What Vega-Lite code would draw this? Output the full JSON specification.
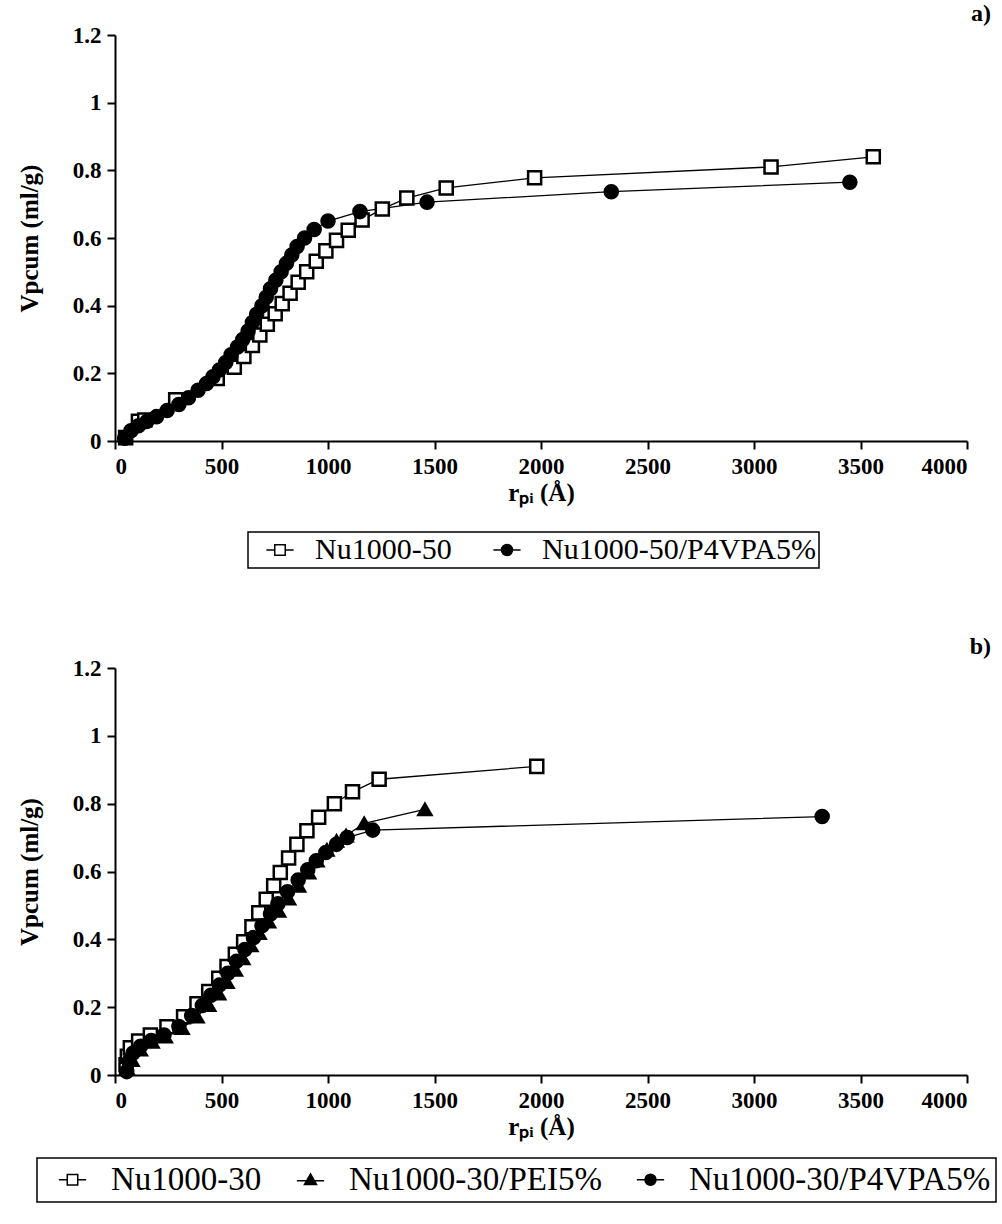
{
  "$schema": "https://vega.github.io/schema/vega-lite/v6.json",
  "padding": {"left": 17, "top": 2, "right": 0, "bottom": 0},
  "background": "white",
  "datasets": {
    "a": [
      {"series": "Nu1000-50", "r": 50, "v": 0.01},
      {"series": "Nu1000-50", "r": 110, "v": 0.058},
      {"series": "Nu1000-50", "r": 140, "v": 0.062},
      {"series": "Nu1000-50", "r": 285, "v": 0.122},
      {"series": "Nu1000-50", "r": 480, "v": 0.185},
      {"series": "Nu1000-50", "r": 560, "v": 0.218},
      {"series": "Nu1000-50", "r": 605, "v": 0.25},
      {"series": "Nu1000-50", "r": 645, "v": 0.282},
      {"series": "Nu1000-50", "r": 680, "v": 0.313},
      {"series": "Nu1000-50", "r": 715, "v": 0.345},
      {"series": "Nu1000-50", "r": 752, "v": 0.376},
      {"series": "Nu1000-50", "r": 785, "v": 0.406},
      {"series": "Nu1000-50", "r": 822, "v": 0.437},
      {"series": "Nu1000-50", "r": 860, "v": 0.469},
      {"series": "Nu1000-50", "r": 900, "v": 0.5},
      {"series": "Nu1000-50", "r": 945, "v": 0.531},
      {"series": "Nu1000-50", "r": 990, "v": 0.562},
      {"series": "Nu1000-50", "r": 1040, "v": 0.593},
      {"series": "Nu1000-50", "r": 1095, "v": 0.623},
      {"series": "Nu1000-50", "r": 1160, "v": 0.653},
      {"series": "Nu1000-50", "r": 1255, "v": 0.686},
      {"series": "Nu1000-50", "r": 1370, "v": 0.718},
      {"series": "Nu1000-50", "r": 1555, "v": 0.748},
      {"series": "Nu1000-50", "r": 1970, "v": 0.778},
      {"series": "Nu1000-50", "r": 3080, "v": 0.81},
      {"series": "Nu1000-50", "r": 3560, "v": 0.84},
      {"series": "Nu1000-50/P4VPA5%", "r": 45, "v": 0.008},
      {"series": "Nu1000-50/P4VPA5%", "r": 75, "v": 0.03},
      {"series": "Nu1000-50/P4VPA5%", "r": 110, "v": 0.045},
      {"series": "Nu1000-50/P4VPA5%", "r": 150, "v": 0.058},
      {"series": "Nu1000-50/P4VPA5%", "r": 195, "v": 0.072},
      {"series": "Nu1000-50/P4VPA5%", "r": 245, "v": 0.09},
      {"series": "Nu1000-50/P4VPA5%", "r": 300, "v": 0.108},
      {"series": "Nu1000-50/P4VPA5%", "r": 345, "v": 0.128},
      {"series": "Nu1000-50/P4VPA5%", "r": 390, "v": 0.15},
      {"series": "Nu1000-50/P4VPA5%", "r": 430, "v": 0.17},
      {"series": "Nu1000-50/P4VPA5%", "r": 460, "v": 0.19},
      {"series": "Nu1000-50/P4VPA5%", "r": 490, "v": 0.21},
      {"series": "Nu1000-50/P4VPA5%", "r": 520, "v": 0.232},
      {"series": "Nu1000-50/P4VPA5%", "r": 545, "v": 0.255},
      {"series": "Nu1000-50/P4VPA5%", "r": 575, "v": 0.278},
      {"series": "Nu1000-50/P4VPA5%", "r": 600, "v": 0.3},
      {"series": "Nu1000-50/P4VPA5%", "r": 625, "v": 0.325},
      {"series": "Nu1000-50/P4VPA5%", "r": 645, "v": 0.35},
      {"series": "Nu1000-50/P4VPA5%", "r": 665, "v": 0.375},
      {"series": "Nu1000-50/P4VPA5%", "r": 690, "v": 0.4},
      {"series": "Nu1000-50/P4VPA5%", "r": 710, "v": 0.425},
      {"series": "Nu1000-50/P4VPA5%", "r": 730, "v": 0.45},
      {"series": "Nu1000-50/P4VPA5%", "r": 755, "v": 0.475},
      {"series": "Nu1000-50/P4VPA5%", "r": 780, "v": 0.5},
      {"series": "Nu1000-50/P4VPA5%", "r": 805, "v": 0.525},
      {"series": "Nu1000-50/P4VPA5%", "r": 830, "v": 0.55},
      {"series": "Nu1000-50/P4VPA5%", "r": 855, "v": 0.575},
      {"series": "Nu1000-50/P4VPA5%", "r": 890, "v": 0.6},
      {"series": "Nu1000-50/P4VPA5%", "r": 935, "v": 0.625},
      {"series": "Nu1000-50/P4VPA5%", "r": 1000, "v": 0.65},
      {"series": "Nu1000-50/P4VPA5%", "r": 1150, "v": 0.678},
      {"series": "Nu1000-50/P4VPA5%", "r": 1465, "v": 0.706},
      {"series": "Nu1000-50/P4VPA5%", "r": 2330, "v": 0.737},
      {"series": "Nu1000-50/P4VPA5%", "r": 3450, "v": 0.765}
    ],
    "b": [
      {"series": "Nu1000-30", "r": 52, "v": 0.03},
      {"series": "Nu1000-30", "r": 58, "v": 0.055},
      {"series": "Nu1000-30", "r": 72, "v": 0.08},
      {"series": "Nu1000-30", "r": 111, "v": 0.1},
      {"series": "Nu1000-30", "r": 166, "v": 0.118},
      {"series": "Nu1000-30", "r": 244, "v": 0.142},
      {"series": "Nu1000-30", "r": 322, "v": 0.172},
      {"series": "Nu1000-30", "r": 385, "v": 0.21},
      {"series": "Nu1000-30", "r": 440, "v": 0.246},
      {"series": "Nu1000-30", "r": 487, "v": 0.285},
      {"series": "Nu1000-30", "r": 526, "v": 0.32},
      {"series": "Nu1000-30", "r": 565, "v": 0.356},
      {"series": "Nu1000-30", "r": 604, "v": 0.393},
      {"series": "Nu1000-30", "r": 643, "v": 0.437},
      {"series": "Nu1000-30", "r": 675, "v": 0.478},
      {"series": "Nu1000-30", "r": 710, "v": 0.518},
      {"series": "Nu1000-30", "r": 745, "v": 0.558},
      {"series": "Nu1000-30", "r": 776, "v": 0.597},
      {"series": "Nu1000-30", "r": 815, "v": 0.64},
      {"series": "Nu1000-30", "r": 854, "v": 0.68},
      {"series": "Nu1000-30", "r": 901, "v": 0.72},
      {"series": "Nu1000-30", "r": 956, "v": 0.76},
      {"series": "Nu1000-30", "r": 1030, "v": 0.8},
      {"series": "Nu1000-30", "r": 1115, "v": 0.835},
      {"series": "Nu1000-30", "r": 1240, "v": 0.872},
      {"series": "Nu1000-30", "r": 1980, "v": 0.91},
      {"series": "Nu1000-30/PEI5%", "r": 56, "v": 0.02},
      {"series": "Nu1000-30/PEI5%", "r": 80, "v": 0.044},
      {"series": "Nu1000-30/PEI5%", "r": 119, "v": 0.075},
      {"series": "Nu1000-30/PEI5%", "r": 174, "v": 0.098},
      {"series": "Nu1000-30/PEI5%", "r": 236, "v": 0.113},
      {"series": "Nu1000-30/PEI5%", "r": 315, "v": 0.138},
      {"series": "Nu1000-30/PEI5%", "r": 385, "v": 0.172},
      {"series": "Nu1000-30/PEI5%", "r": 440, "v": 0.206},
      {"series": "Nu1000-30/PEI5%", "r": 487, "v": 0.24},
      {"series": "Nu1000-30/PEI5%", "r": 526, "v": 0.274},
      {"series": "Nu1000-30/PEI5%", "r": 565, "v": 0.31},
      {"series": "Nu1000-30/PEI5%", "r": 600, "v": 0.344},
      {"series": "Nu1000-30/PEI5%", "r": 638, "v": 0.382},
      {"series": "Nu1000-30/PEI5%", "r": 677, "v": 0.418},
      {"series": "Nu1000-30/PEI5%", "r": 721, "v": 0.452},
      {"series": "Nu1000-30/PEI5%", "r": 768, "v": 0.484},
      {"series": "Nu1000-30/PEI5%", "r": 815, "v": 0.52},
      {"series": "Nu1000-30/PEI5%", "r": 862, "v": 0.558},
      {"series": "Nu1000-30/PEI5%", "r": 909, "v": 0.597},
      {"series": "Nu1000-30/PEI5%", "r": 948, "v": 0.632},
      {"series": "Nu1000-30/PEI5%", "r": 995, "v": 0.664},
      {"series": "Nu1000-30/PEI5%", "r": 1040, "v": 0.69},
      {"series": "Nu1000-30/PEI5%", "r": 1085, "v": 0.706},
      {"series": "Nu1000-30/PEI5%", "r": 1170, "v": 0.742},
      {"series": "Nu1000-30/PEI5%", "r": 1455, "v": 0.783},
      {"series": "Nu1000-30/P4VPA5%", "r": 55, "v": 0.01},
      {"series": "Nu1000-30/P4VPA5%", "r": 65, "v": 0.04},
      {"series": "Nu1000-30/P4VPA5%", "r": 85, "v": 0.065},
      {"series": "Nu1000-30/P4VPA5%", "r": 120, "v": 0.085},
      {"series": "Nu1000-30/P4VPA5%", "r": 170, "v": 0.102},
      {"series": "Nu1000-30/P4VPA5%", "r": 230, "v": 0.118},
      {"series": "Nu1000-30/P4VPA5%", "r": 300, "v": 0.143},
      {"series": "Nu1000-30/P4VPA5%", "r": 360, "v": 0.175},
      {"series": "Nu1000-30/P4VPA5%", "r": 410, "v": 0.205},
      {"series": "Nu1000-30/P4VPA5%", "r": 450, "v": 0.235},
      {"series": "Nu1000-30/P4VPA5%", "r": 490, "v": 0.265},
      {"series": "Nu1000-30/P4VPA5%", "r": 530, "v": 0.3},
      {"series": "Nu1000-30/P4VPA5%", "r": 570, "v": 0.335},
      {"series": "Nu1000-30/P4VPA5%", "r": 610, "v": 0.37},
      {"series": "Nu1000-30/P4VPA5%", "r": 650, "v": 0.405},
      {"series": "Nu1000-30/P4VPA5%", "r": 690, "v": 0.44},
      {"series": "Nu1000-30/P4VPA5%", "r": 730, "v": 0.475},
      {"series": "Nu1000-30/P4VPA5%", "r": 765, "v": 0.505},
      {"series": "Nu1000-30/P4VPA5%", "r": 810, "v": 0.54},
      {"series": "Nu1000-30/P4VPA5%", "r": 860, "v": 0.575},
      {"series": "Nu1000-30/P4VPA5%", "r": 905, "v": 0.605},
      {"series": "Nu1000-30/P4VPA5%", "r": 945, "v": 0.632},
      {"series": "Nu1000-30/P4VPA5%", "r": 990, "v": 0.656},
      {"series": "Nu1000-30/P4VPA5%", "r": 1040, "v": 0.68},
      {"series": "Nu1000-30/P4VPA5%", "r": 1090, "v": 0.7},
      {"series": "Nu1000-30/P4VPA5%", "r": 1210, "v": 0.722},
      {"series": "Nu1000-30/P4VPA5%", "r": 3320, "v": 0.762}
    ]
  },
  "spacing": 66,
  "vconcat": [
    {
      "width": 852,
      "height": 406,
      "data": {"name": "a"},
      "title": {"text": "a)", "anchor": "end", "frame": "group", "dx": 24, "offset": -2},
      "encoding": {
        "x": {"field": "r", "type": "quantitative", "scale": {"domain": [0, 4000], "nice": false},
              "axis": {"values": [0,500,1000,1500,2000,2500,3000,3500,4000], "format": "d", "title": "rₚᵢ (Å)"}},
        "y": {"field": "v", "type": "quantitative", "scale": {"domain": [0, 1.2], "nice": false},
              "axis": {"values": [0,0.2,0.4,0.6,0.8,1,1.2], "format": "~g", "title": "Vpcum (ml/g)"}}
      },
      "layer": [
        {"mark": {"type": "line", "color": "black", "strokeWidth": 1.3},
         "encoding": {"detail": {"field": "series"}}},
        {"mark": {"type": "point", "stroke": "black", "strokeWidth": 2.5, "size": 170, "opacity": 1},
         "encoding": {
           "shape": {"field": "series", "type": "nominal",
             "scale": {"domain": ["Nu1000-50", "Nu1000-50/P4VPA5%"], "range": ["square", "circle"]}, "legend": null},
           "fill": {"field": "series", "type": "nominal",
             "scale": {"domain": ["Nu1000-50", "Nu1000-50/P4VPA5%"], "range": ["white", "black"]}, "legend": null}
         }},
        {"transform": [{"filter": "false"}],
         "mark": {"type": "point", "stroke": "black", "strokeWidth": 2, "opacity": 1},
         "encoding": {
           "shape": {"field": "series", "type": "nominal",
             "scale": {"domain": ["Nu1000-50", "Nu1000-50/P4VPA5%"],
                       "range": ["M-2.6,0H-1M1,0H2.6M-1,-1H1V1H-1Z", "M-2.6,0H2.6M-1.05,0A1.05,1.05,0,1,0,1.05,0A1.05,1.05,0,1,0,-1.05,0Z"]},
             "legend": {"title": null, "orient": "none", "legendX": 133, "legendY": 497, "direction": "horizontal",
                        "labelFontSize": 30, "padding": 3, "symbolSize": 110, "symbolOffset": 14, "labelOffset": 20, "columnPadding": 26,
                        "encode": {"symbols": {"update": {"stroke": {"value": "black"}, "strokeWidth": {"value": 2}}}}}},
           "fill": {"field": "series", "type": "nominal",
             "scale": {"domain": ["Nu1000-50", "Nu1000-50/P4VPA5%"], "range": ["white", "black"]},
             "legend": {"title": null, "orient": "none", "legendX": 133, "legendY": 497, "direction": "horizontal",
                        "labelFontSize": 30, "padding": 3, "symbolSize": 110, "symbolOffset": 14, "labelOffset": 20, "columnPadding": 26,
                        "encode": {"symbols": {"update": {"stroke": {"value": "black"}, "strokeWidth": {"value": 2}}}}}}
         }}
      ],
      "resolve": {"scale": {"shape": "independent", "fill": "independent"}}
    },
    {
      "width": 852,
      "height": 407,
      "data": {"name": "b"},
      "title": {"text": "b)", "anchor": "end", "frame": "group", "dx": 24, "offset": -2},
      "encoding": {
        "x": {"field": "r", "type": "quantitative", "scale": {"domain": [0, 4000], "nice": false},
              "axis": {"values": [0,500,1000,1500,2000,2500,3000,3500,4000], "format": "d", "title": "rₚᵢ (Å)"}},
        "y": {"field": "v", "type": "quantitative", "scale": {"domain": [0, 1.2], "nice": false},
              "axis": {"values": [0,0.2,0.4,0.6,0.8,1,1.2], "format": "~g", "title": "Vpcum (ml/g)"}}
      },
      "layer": [
        {"mark": {"type": "line", "color": "black", "strokeWidth": 1.3},
         "encoding": {"detail": {"field": "series"}}},
        {"mark": {"type": "point", "stroke": "black", "strokeWidth": 2.5, "size": 170, "opacity": 1},
         "encoding": {
           "shape": {"field": "series", "type": "nominal",
             "scale": {"domain": ["Nu1000-30", "Nu1000-30/PEI5%", "Nu1000-30/P4VPA5%"], "range": ["square", "triangle-up", "circle"]}, "legend": null},
           "fill": {"field": "series", "type": "nominal",
             "scale": {"domain": ["Nu1000-30", "Nu1000-30/PEI5%", "Nu1000-30/P4VPA5%"], "range": ["white", "black", "black"]}, "legend": null}
         }},
        {"transform": [{"filter": "false"}],
         "mark": {"type": "point", "stroke": "black", "strokeWidth": 2, "opacity": 1},
         "encoding": {
           "shape": {"field": "series", "type": "nominal",
             "scale": {"domain": ["Nu1000-30", "Nu1000-30/PEI5%", "Nu1000-30/P4VPA5%"],
                       "range": ["M-2.6,0H-1M1,0H2.6M-1,-1H1V1H-1Z", "M-2.6,0.2H2.6M0,-1.1L1.15,0.9H-1.15Z", "M-2.6,0H2.6M-1.05,0A1.05,1.05,0,1,0,1.05,0A1.05,1.05,0,1,0,-1.05,0Z"]},
             "legend": {"title": null, "orient": "none", "legendX": -78, "legendY": 490, "direction": "horizontal",
                        "labelFontSize": 33, "padding": 5, "symbolSize": 110, "symbolOffset": 14, "labelOffset": 22, "columnPadding": 18,
                        "encode": {"symbols": {"update": {"stroke": {"value": "black"}, "strokeWidth": {"value": 2}}}}}},
           "fill": {"field": "series", "type": "nominal",
             "scale": {"domain": ["Nu1000-30", "Nu1000-30/PEI5%", "Nu1000-30/P4VPA5%"], "range": ["white", "black", "black"]},
             "legend": {"title": null, "orient": "none", "legendX": -78, "legendY": 490, "direction": "horizontal",
                        "labelFontSize": 33, "padding": 5, "symbolSize": 110, "symbolOffset": 14, "labelOffset": 22, "columnPadding": 18,
                        "encode": {"symbols": {"update": {"stroke": {"value": "black"}, "strokeWidth": {"value": 2}}}}}}
         }}
      ],
      "resolve": {"scale": {"shape": "independent", "fill": "independent"}}
    }
  ],
  "resolve": {"scale": {"shape": "independent", "fill": "independent"}, "legend": {"shape": "independent", "fill": "independent"}},
  "config": {
    "view": {"stroke": null},
    "title": {"font": "Liberation Serif", "fontSize": 24, "fontWeight": "bold", "color": "black"},
    "axis": {
      "grid": false,
      "domainColor": "black", "domainWidth": 2,
      "tickColor": "black", "tickWidth": 2, "tickSize": 8,
      "labelFont": "Liberation Serif", "labelFontSize": 23, "labelFontWeight": "bold", "labelColor": "black",
      "titleFont": "Liberation Serif", "titleFontSize": 25, "titleFontWeight": "bold", "titleColor": "black"
    },
    "axisX": {"labelPadding": 6, "titlePadding": 2},
    "axisY": {"labelPadding": 6, "titlePadding": 30},
    "legend": {
      "strokeColor": "black", "strokeWidth": 1.5,
      "labelFont": "Liberation Serif", "labelColor": "black", "labelLimit": 0
    }
  }
}
